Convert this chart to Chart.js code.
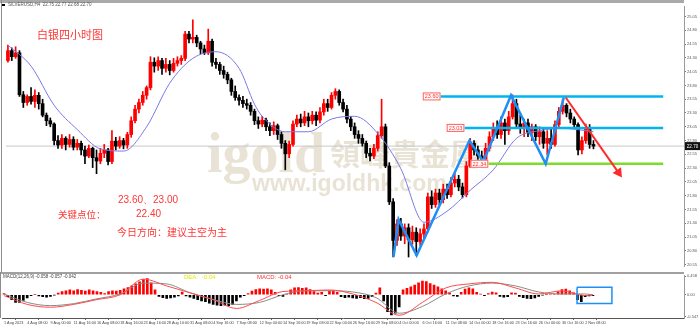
<!DOCTYPE html>
<html>
<head>
<meta charset="utf-8">
<script src="https://cdn.jsdelivr.net/npm/chart.js@4.4.0/dist/chart.umd.min.js"></script>
<style>
  html, body { margin: 0; padding: 0; background: #fff; }
  #wrap { position: relative; width: 700px; height: 328px; overflow: hidden; }
  #mainBox { position: absolute; left: 0; top: 0; width: 700px; height: 272px; }
  #macdBox { position: absolute; left: 0; top: 272px; width: 700px; height: 56px; }
</style>
</head>
<body>
<div id="wrap">
  <div id="mainBox"><canvas id="mainChart"></canvas></div>
  <div id="macdBox"><canvas id="macdChart"></canvas></div>
</div>
<script>
// --- data ---
const dateLabels = [
  "1 Aug 2023", "4 Aug 08:00", "9 Aug 00:00", "11 Aug 16:00", "16 Aug 08:00",
  "18 Aug 16:00", "23 Aug 16:00", "28 Aug 10:00", "31 Aug 08:00", "4 Sep 16:00",
  "7 Sep 08:00", "12 Sep 00:00", "14 Sep 16:00", "19 Sep 08:00", "22 Sep 00:00",
  "26 Sep 16:00", "29 Sep 08:00", "4 Oct 00:00", "6 Oct 16:00", "11 Oct 08:00",
  "14 Oct 00:00", "18 Oct 16:00", "23 Oct 16:00", "26 Oct 00:00", "30 Oct 16:00",
  "2 Nov 08:00",
];
const barsPerLabel = 6;

const opens = [
  24.25, 24.43, 24.32, 24.39, 23.63, 23.49, 23.60, 23.51, 23.62, 23.47,
  23.26, 23.16, 23.10, 22.80, 22.72, 22.84, 22.73, 22.82, 22.68, 22.75,
  22.63, 22.52, 22.66, 22.49, 22.43, 22.57, 22.63, 22.42, 22.79, 22.70,
  22.80, 22.72, 22.91, 23.16, 23.37, 23.49, 23.62, 23.76, 24.22, 24.15,
  24.25, 24.11, 24.18, 24.07, 24.20, 24.25, 24.29, 24.73, 24.64, 24.67,
  24.57, 24.46, 24.39, 24.60, 24.22, 24.18, 24.07, 24.00, 23.90, 23.69,
  23.58, 23.53, 23.47, 23.44, 23.33, 23.16, 23.10, 23.17, 23.05, 22.98,
  23.07, 22.91, 22.75, 22.56, 22.73, 23.10, 23.19, 23.12, 23.23, 23.16,
  23.26, 23.17, 23.32, 23.47, 23.40, 23.62, 23.69, 23.49, 23.37, 23.19,
  23.05, 22.91, 22.84, 22.75, 22.57, 22.52, 22.66, 22.89, 23.05, 22.34,
  21.69, 20.99, 21.29, 21.07, 21.22, 21.00, 21.14, 20.97, 21.11, 21.20,
  21.78, 21.64, 21.85, 21.73, 21.92, 21.82, 22.03, 22.10, 21.96, 21.82,
  22.34, 22.75, 22.63, 22.52, 22.45, 22.66, 22.87, 23.02, 22.91, 23.12,
  22.98, 23.23, 23.47, 23.10, 23.02, 23.12, 22.95, 23.05, 22.87, 22.96,
  22.75, 22.84, 22.73, 23.09, 23.33, 23.44, 23.30, 23.19, 23.09, 22.63,
  22.80, 23.02, 22.73,
];
const highs = [
  24.53, 24.48, 24.50, 24.43, 23.69, 23.63, 23.76, 23.72, 23.67, 23.55,
  23.30, 23.21, 23.12, 22.89, 22.91, 22.87, 22.91, 22.87, 22.82, 22.79,
  22.70, 22.72, 22.68, 22.63, 22.66, 22.73, 22.66, 22.98, 22.86, 22.87,
  22.84, 22.95, 23.23, 23.44, 23.55, 23.69, 23.79, 24.32, 24.30, 24.32,
  24.29, 24.29, 24.25, 24.29, 24.32, 24.34, 24.78, 24.78, 24.99, 24.71,
  24.60, 24.53, 24.82, 24.64, 24.29, 24.22, 24.15, 24.04, 23.93, 23.79,
  23.63, 23.60, 23.55, 23.49, 23.37, 23.23, 23.24, 23.21, 23.12, 23.14,
  23.10, 22.96, 22.80, 22.79, 23.16, 23.26, 23.28, 23.33, 23.30, 23.33,
  23.32, 23.40, 23.55, 23.55, 23.67, 23.74, 23.72, 23.55, 23.44, 23.24,
  23.12, 22.98, 22.91, 22.79, 22.66, 22.73, 22.96, 23.55, 23.10, 22.40,
  21.75, 21.37, 21.39, 21.29, 21.29, 21.25, 21.22, 21.20, 21.29, 21.85,
  21.89, 21.92, 21.92, 22.01, 22.01, 22.13, 22.20, 22.17, 22.03, 22.42,
  22.84, 22.80, 22.70, 22.61, 22.75, 22.96, 23.12, 23.16, 23.23, 23.19,
  23.33, 23.63, 23.55, 23.26, 23.19, 23.19, 23.10, 23.09, 23.05, 23.02,
  22.98, 23.02, 23.16, 23.40, 23.55, 23.47, 23.37, 23.23, 23.12, 22.87,
  23.10, 23.09, 22.80,
];
const lows = [
  24.22, 24.25, 24.29, 23.60, 23.40, 23.44, 23.46, 23.40, 23.37, 23.23,
  23.07, 23.05, 22.72, 22.66, 22.66, 22.63, 22.68, 22.63, 22.63, 22.54,
  22.38, 22.49, 22.31, 22.20, 22.38, 22.49, 22.36, 22.38, 22.63, 22.66,
  22.65, 22.66, 22.86, 23.12, 23.30, 23.44, 23.55, 23.72, 24.04, 24.07,
  24.00, 24.04, 23.99, 24.04, 24.15, 24.18, 24.25, 24.57, 24.57, 24.50,
  24.37, 24.36, 24.36, 24.15, 24.11, 24.00, 23.93, 23.83, 23.62, 23.53,
  23.44, 23.40, 23.37, 23.26, 23.09, 23.02, 23.05, 22.98, 22.89, 22.91,
  22.82, 22.66, 22.27, 22.49, 22.70, 23.05, 23.05, 23.07, 23.05, 23.10,
  23.07, 23.12, 23.26, 23.33, 23.37, 23.55, 23.44, 23.32, 23.12, 22.98,
  22.84, 22.75, 22.70, 22.49, 22.43, 22.47, 22.61, 22.84, 22.31, 21.64,
  20.69, 20.90, 20.99, 20.93, 20.69, 20.92, 20.72, 20.90, 21.02, 21.14,
  21.57, 21.59, 21.64, 21.67, 21.75, 21.78, 21.96, 21.89, 21.76, 21.78,
  22.31, 22.54, 22.45, 22.38, 22.42, 22.61, 22.80, 22.84, 22.84, 22.73,
  22.91, 23.19, 23.05, 22.93, 22.87, 22.87, 22.80, 22.80, 22.73, 22.66,
  22.54, 22.66, 22.70, 23.05, 23.28, 23.23, 23.12, 23.02, 22.54, 22.56,
  22.75, 22.66, 22.65,
];
const closes = [
  24.43, 24.32, 24.39, 23.63, 23.49, 23.60, 23.51, 23.62, 23.47, 23.26,
  23.16, 23.10, 22.80, 22.72, 22.84, 22.73, 22.82, 22.68, 22.75, 22.63,
  22.52, 22.66, 22.49, 22.43, 22.57, 22.63, 22.42, 22.79, 22.70, 22.80,
  22.72, 22.91, 23.16, 23.37, 23.49, 23.62, 23.76, 24.22, 24.15, 24.25,
  24.11, 24.18, 24.07, 24.20, 24.25, 24.29, 24.73, 24.64, 24.67, 24.57,
  24.46, 24.39, 24.60, 24.22, 24.18, 24.07, 24.00, 23.90, 23.69, 23.58,
  23.53, 23.47, 23.44, 23.33, 23.16, 23.10, 23.17, 23.05, 22.98, 23.07,
  22.91, 22.75, 22.56, 22.73, 23.10, 23.19, 23.12, 23.23, 23.16, 23.26,
  23.17, 23.32, 23.47, 23.40, 23.62, 23.69, 23.49, 23.37, 23.19, 23.05,
  22.91, 22.84, 22.75, 22.57, 22.52, 22.66, 22.89, 23.05, 22.34, 21.69,
  20.99, 21.29, 21.07, 21.22, 21.00, 21.14, 20.97, 21.11, 21.20, 21.78,
  21.64, 21.85, 21.73, 21.92, 21.82, 22.03, 22.10, 21.96, 21.82, 22.34,
  22.75, 22.63, 22.52, 22.45, 22.66, 22.87, 23.02, 22.91, 23.12, 22.98,
  23.23, 23.47, 23.10, 23.02, 23.12, 22.95, 23.05, 22.87, 22.96, 22.75,
  22.84, 22.73, 23.09, 23.33, 23.44, 23.30, 23.19, 23.09, 22.63, 22.80,
  23.02, 22.73, 22.70,
];

// moving average, read at every 6th bar
const maIdx = [0, 6, 12, 18, 24, 30, 36, 42, 48, 54, 60, 64, 66, 72, 78, 84, 90, 96, 102, 108, 114, 120, 126, 132, 138, 144, 150, 152];
const maValues = [24.53, 24.15, 23.44, 23.00, 22.65, 22.61, 23.05, 23.84, 24.29, 24.41, 24.11, 23.46, 23.24, 22.96, 22.96, 23.19, 23.24, 22.93, 22.29, 21.32, 21.52, 21.90, 22.27, 22.84, 22.98, 23.02, 22.98, 22.96];

// MACD panel
const macdIdx = [0, 6, 12, 18, 24, 30, 36, 42, 48, 54, 60, 66, 72, 78, 84, 90, 96, 102, 108, 114, 120, 126, 132, 138, 144, 150, 152];
const macdValues = [-0.02, -0.24, -0.31, -0.24, -0.12, 0.00, 0.39, 0.22, 0.05, -0.12, -0.34, -0.14, 0.08, 0.10, 0.12, 0.02, -0.19, -0.51, -0.19, 0.17, 0.27, 0.31, 0.17, 0.02, 0.10, -0.02, 0.00];
const signalValues = [0.02, -0.19, -0.27, -0.22, -0.10, 0.02, 0.29, 0.27, 0.05, -0.12, -0.24, -0.19, 0.00, 0.10, 0.10, 0.07, -0.07, -0.46, -0.29, 0.02, 0.22, 0.29, 0.22, 0.07, 0.02, 0.02, 0.00];
const histValues = [
  0.03, -0.05, -0.12, -0.19, -0.19, -0.14, -0.08, -0.02, 0.01, -0.03,
  -0.05, -0.06, -0.04, -0.01, 0.04, 0.08, 0.10, 0.12, 0.10, 0.13,
  0.11, 0.09, 0.12, 0.10, 0.08, 0.06, 0.03, 0.08, 0.10, 0.09,
  0.11, 0.15, 0.18, 0.22, 0.27, 0.32, 0.38, 0.40, 0.30, 0.12,
  -0.04, -0.07, -0.09, -0.08, -0.06, -0.03, 0.07, -0.03, -0.06, -0.09,
  -0.12, -0.15, -0.17, -0.21, -0.24, -0.26, -0.27, -0.26, -0.27, -0.24,
  -0.15, -0.06, -0.02, 0.03, 0.09, 0.13, 0.15, 0.14, 0.15, 0.12,
  0.06, -0.02, -0.04, 0.02, 0.12, 0.17, 0.18, 0.16, 0.17, 0.13,
  0.08, 0.04, 0.06, -0.02, 0.09, 0.10, 0.06, -0.05, -0.07, -0.06,
  -0.08, -0.09, -0.07, -0.10, -0.09, -0.05, 0.04, 0.17, -0.15, -0.42,
  -0.50, -0.46, -0.30, 0.12, 0.16, 0.20, 0.24, 0.30, 0.34, 0.33,
  0.28, 0.24, 0.20, 0.15, 0.10, 0.05, -0.03, -0.04, 0.06, 0.14,
  0.17, 0.15, 0.06, 0.02, -0.02, 0.03, 0.07, 0.05, -0.04, -0.06,
  -0.05, 0.05, 0.04, -0.04, -0.07, -0.09, -0.10, -0.08, -0.04, -0.01,
  0.01, 0.00, 0.02, 0.08, 0.13, 0.14, 0.10, 0.05, -0.12, -0.17,
  -0.05, -0.03, -0.02,
];

const priceTicks = [25.05, 24.80, 24.55, 24.30, 24.05, 23.80, 23.55, 23.30, 23.05, 22.80, 22.55, 22.30, 22.05, 21.80, 21.55, 21.30, 21.05, 20.80, 20.55];
const macdTicks = [0.458, 0, -0.547];
const macdTickLabels = ["0.458", "0.00", "-0.547"];

// drawn analysis
const lastPrice = 22.70;
const levelTags = [
  { text: "23.60", price: 23.60, from: 112.3, color: "#00b4f0" },
  { text: "23.03", price: 23.03, from: 118.5, color: "#00b4f0" },
  { text: "22.34", price: 22.38, from: 124.7, color: "#7ddc2a" },
];
const levelEnd = 170.1;
const zigzagX = [100.1, 101.4, 106.1, 119.8, 123.4, 130.6, 139.6, 144.3];
const zigzagY = [20.69, 21.37, 20.72, 22.80, 22.42, 23.62, 22.38, 23.58];
const arrowX = [144.8, 158.5];
const arrowY = [23.58, 22.22];
const boxX = [147.9, 156.9];
const boxY = [0.19, -0.22];

const X_MIN = -0.5;
const X_MAX = 175.5;

document.addEventListener("DOMContentLoaded", function () {
  initMainChart();
  initMacdChart();
});

function candleColor(i) {
  return closes[i] >= opens[i] ? "#ff0000" : "#000000";
}

function initMainChart() {
  const ctx = document.getElementById("mainChart").getContext("2d");
  const colors = closes.map((c, i) => candleColor(i));

  const datasets = [
    {
      type: "line",
      data: [{ x: X_MIN, y: lastPrice }, { x: X_MAX, y: lastPrice }],
      borderColor: "#c8c8c8",
      borderWidth: 1,
      pointRadius: 0,
      order: 20,
    },
    {
      data: closes.map((c, i) => ({ x: i, y: [lows[i], highs[i]] })),
      backgroundColor: colors,
      barThickness: 1,
      grouped: false,
      order: 11,
    },
    {
      data: closes.map((c, i) => ({ x: i, y: [opens[i], c] })),
      backgroundColor: colors,
      barThickness: 3,
      minBarLength: 1,
      grouped: false,
      order: 10,
    },
    {
      type: "line",
      data: maIdx.map((x, k) => ({ x: x, y: maValues[k] })),
      borderColor: "#7a78e6",
      borderWidth: 1,
      pointRadius: 0,
      cubicInterpolationMode: "monotone",
      order: 5,
    },
  ];

  levelTags.forEach((t) => {
    datasets.push({
      type: "line",
      data: [{ x: t.from, y: t.price }, { x: levelEnd, y: t.price }],
      borderColor: t.color,
      borderWidth: 2.5,
      pointRadius: 0,
      order: 2,
    });
  });

  datasets.push({
    type: "line",
    data: zigzagX.map((x, k) => ({ x: x, y: zigzagY[k] })),
    borderColor: "#1e8ff5",
    borderWidth: 2.5,
    pointRadius: 0,
    order: 1,
  });
  datasets.push({
    type: "line",
    data: arrowX.map((x, k) => ({ x: x, y: arrowY[k] })),
    borderColor: "#ff2a2a",
    backgroundColor: "#ff2a2a",
    borderWidth: 2,
    pointRadius: [0, 4],
    pointStyle: "triangle",
    pointRotation: 145,
    order: 0,
  });

  new Chart(ctx, {
    type: "bar",
    data: { datasets: datasets },
    options: {
      responsive: true,
      maintainAspectRatio: false,
      animation: false,
      layout: { padding: { left: 2, top: 4, right: 0, bottom: 1 } },
      plugins: { legend: { display: false }, tooltip: { enabled: false } },
      scales: {
        x: { type: "linear", min: X_MIN, max: X_MAX, offset: false, display: false },
        y: {
          position: "right",
          min: 20.527,
          max: 25.239,
          afterFit: (s) => { s.width = 16; },
          afterBuildTicks: (s) => { s.ticks = priceTicks.map((v) => ({ value: v })); },
          grid: { drawOnChartArea: false, tickLength: 2, color: "#777" },
          border: { color: "#9a9a9a" },
          ticks: {
            padding: 1,
            color: "#555",
            font: { size: 4, family: "Liberation Sans" },
            callback: (v) => v.toFixed(2),
          },
        },
      },
    },
    plugins: [mainDecor],
  });
}

const mainDecor = {
  id: "mainDecor",
  beforeDatasetsDraw(chart) {
    const c = chart.ctx;
    c.save();
    c.fillStyle = "rgba(200,184,150,0.4)";
    c.textBaseline = "alphabetic";
    c.font = 'bold 56px "Liberation Serif"';
    c.fillText("igold", 207, 172);
    c.font = 'bold 30px "Noto Sans CJK TC"';
    c.fillText("領峰貴金屬", 330, 165);
    c.font = 'bold 23px "Liberation Sans"';
    c.fillText("www.igoldhk.com", 252, 191);
    c.restore();
  },
  afterDraw(chart) {
    const c = chart.ctx;
    const xs = chart.scales.x;
    const ys = chart.scales.y;
    const area = chart.chartArea;
    c.save();
    // window frame
    c.fillStyle = "#a9a9a9";
    c.fillRect(0, 0, area.right, 3);
    c.fillStyle = "#8c8c8c";
    c.fillRect(1, 0, 1, 272);

    // header
    c.fillStyle = "#000";
    c.fillRect(2, 4, 3, 2);
    c.fillStyle = "#555";
    c.font = '4.5px "Liberation Sans"';
    c.textBaseline = "middle";
    c.fillText("SILVERUSD,H4  22.75 22.77 22.68 22.70", 8, 5);

    // level tags
    c.font = '5.5px "Liberation Sans"';
    levelTags.forEach((t) => {
      const xr = xs.getPixelForValue(t.from);
      const y = ys.getPixelForValue(t.price);
      const w = c.measureText(t.text).width + 4;
      c.fillStyle = "#fff";
      c.fillRect(xr - w, y - 4, w, 8);
      c.strokeStyle = "#ff6060";
      c.lineWidth = 1;
      c.strokeRect(xr - w + 0.5, y - 3.5, w - 1, 7);
      c.fillStyle = "#ff3030";
      c.textAlign = "center";
      c.fillText(t.text, xr - w / 2, y + 0.5);
    });

    // red notes
    c.fillStyle = "#ff3535";
    c.textAlign = "left";
    c.font = '11px "Noto Sans CJK SC"';
    c.fillText("白银四小时图", 37, 35);
    c.font = '10px "Liberation Sans"';
    c.fillText("23.60、23.00", 118, 200);
    c.fillText("22.40", 136, 214);
    c.font = '9.5px "Noto Sans CJK SC"';
    c.fillText("关键点位：", 58, 214);
    c.font = '10px "Noto Sans CJK SC"';
    c.fillText("今日方向：建议主空为主", 117, 232);

    // last price tag
    const py = ys.getPixelForValue(lastPrice);
    c.fillStyle = "#111";
    c.fillRect(area.right + 1, py - 4, 15, 8);
    c.fillStyle = "#fff";
    c.font = '4.5px "Liberation Sans"';
    c.textAlign = "center";
    c.fillText(lastPrice.toFixed(2), area.right + 8.5, py + 0.5);
    c.restore();
  },
};

const macdDecor = {
  id: "macdDecor",
  afterDraw(chart) {
    const c = chart.ctx;
    const area = chart.chartArea;
    c.save();
    c.fillStyle = "#a0a0a0";
    c.fillRect(0, 0, area.right, 2);
    c.fillStyle = "#8c8c8c";
    c.fillRect(0, 0, 1, area.bottom);
    c.textBaseline = "middle";
    c.font = '4.5px "Liberation Sans"';
    c.fillStyle = "#444";
    c.fillText("MACD(12,26,9) -0.058 -0.057 -0.042", 3, 5);
    c.font = '6px "Liberation Sans"';
    c.fillStyle = "#e8e800";
    c.fillText("DEA:", 184, 5);
    c.fillText("-0.04", 202, 5);
    c.fillStyle = "#ff3030";
    c.fillText("MACD:", 257, 5);
    c.fillText("-0.04", 278, 5);
    c.restore();
  },
};

function initMacdChart() {
  const ctx = document.getElementById("macdChart").getContext("2d");

  new Chart(ctx, {
    type: "bar",
    data: {
      datasets: [
        {
          data: histValues.map((v, i) => ({ x: i, y: v })),
          backgroundColor: histValues.map((v) => (v >= 0 ? "#ff0000" : "#000000")),
          barThickness: 2,
          grouped: false,
          order: 5,
        },
        {
          type: "line",
          data: signalValues.map((v, k) => ({ x: macdIdx[k], y: v })),
          borderColor: "#8a8a8a",
          borderWidth: 1,
          pointRadius: 0,
          cubicInterpolationMode: "monotone",
          order: 3,
        },
        {
          type: "line",
          data: macdValues.map((v, k) => ({ x: macdIdx[k], y: v })),
          borderColor: "#ff4a4a",
          borderWidth: 1,
          pointRadius: 0,
          cubicInterpolationMode: "monotone",
          order: 2,
        },
        {
          type: "line",
          data: [
            { x: boxX[0], y: boxY[0] }, { x: boxX[1], y: boxY[0] },
            { x: boxX[1], y: boxY[1] }, { x: boxX[0], y: boxY[1] },
            { x: boxX[0], y: boxY[0] },
          ],
          borderColor: "#1e8ff5",
          borderWidth: 1.5,
          pointRadius: 0,
          order: 0,
        },
      ],
    },
    options: {
      responsive: true,
      maintainAspectRatio: false,
      animation: false,
      layout: { padding: { left: 2, top: 2, right: 0, bottom: 0 } },
      plugins: { legend: { display: false }, tooltip: { enabled: false } },
      scales: {
        x: {
          type: "linear",
          min: X_MIN,
          max: X_MAX,
          offset: false,
          afterFit: (s) => { s.height = 10; },
          afterBuildTicks: (s) => {
            s.ticks = dateLabels.map((l, k) => ({ value: k * barsPerLabel }));
          },
          grid: { drawOnChartArea: false, tickLength: 2, color: "#666" },
          border: { color: "#555" },
          ticks: {
            autoSkip: false,
            maxRotation: 0,
            minRotation: 0,
            align: "start",
            padding: 1,
            color: "#444",
            font: { size: 3.8, family: "Liberation Sans" },
            callback: (v, idx) => dateLabels[idx],
          },
        },
        y: {
          position: "right",
          min: -0.578,
          max: 0.482,
          afterFit: (s) => { s.width = 16; },
          afterBuildTicks: (s) => { s.ticks = macdTicks.map((v) => ({ value: v })); },
          grid: { drawOnChartArea: false, tickLength: 2, color: "#777" },
          border: { color: "#9a9a9a" },
          ticks: {
            padding: 1,
            color: "#555",
            font: { size: 4, family: "Liberation Sans" },
            callback: (v, idx) => macdTickLabels[idx],
          },
        },
      },
    },
    plugins: [macdDecor],
  });
}
</script>
</body>
</html>
